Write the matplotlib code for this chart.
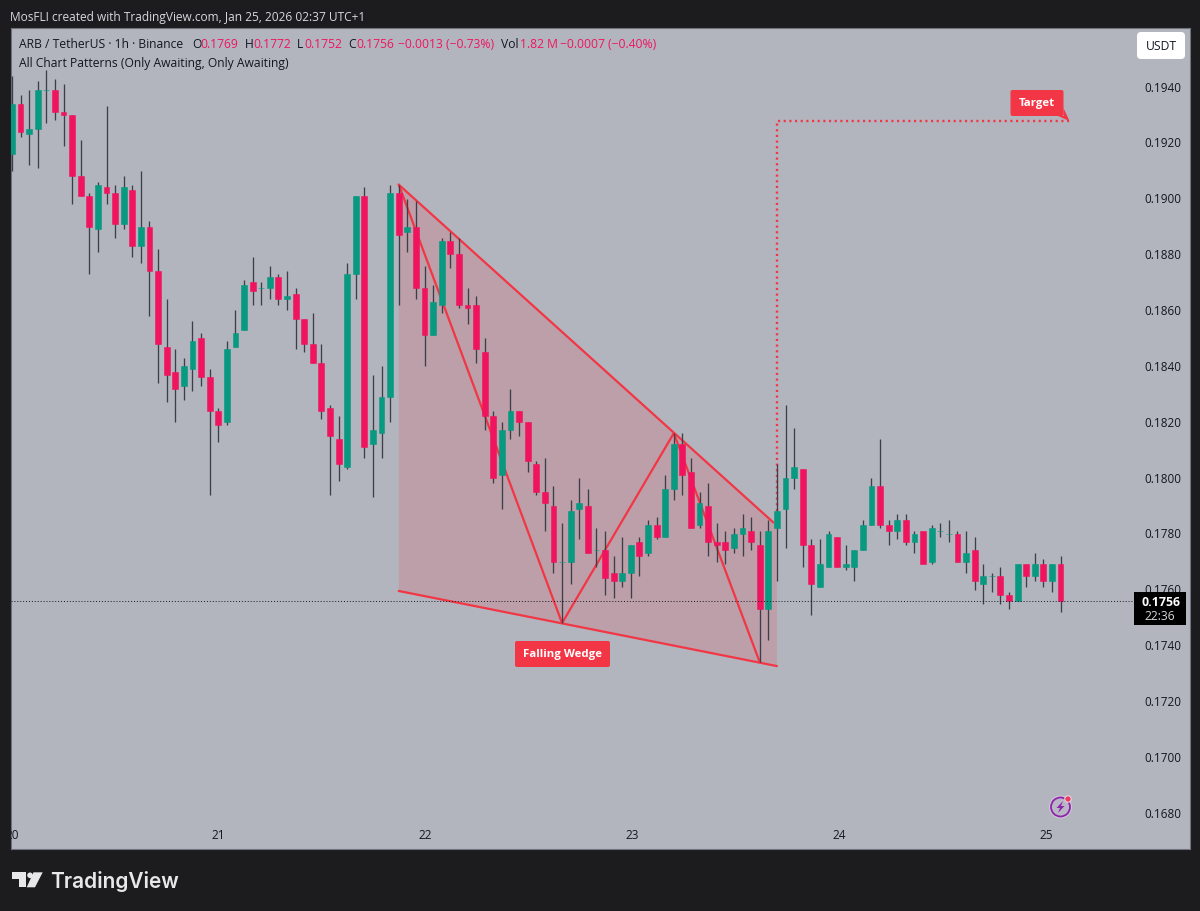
import matplotlib
matplotlib.use("agg")
import matplotlib.pyplot as plt
from matplotlib.patches import FancyBboxPatch, Polygon, Circle

# candles, one per hour
opens = [0.1916,0.1934,0.1923,0.1925,0.1939,0.1939,0.1931,0.1930,0.1908,0.1901,
	0.1889,0.1904,0.1902,0.1891,0.1903,0.1883,0.1890,0.1874,0.1847,0.1838,
	0.1833,0.1839,0.1850,0.1836,0.1824,0.1820,0.1847,0.1853,0.1870,0.1868,
	0.1868,0.1872,0.1864,0.1866,0.1857,0.1848,0.1841,0.1825,0.1814,0.1804,
	0.1873,0.1901,0.1812,0.1816,0.1829,0.1902,0.1888,0.1890,0.1868,0.1851,
	0.1862,0.1885,0.1880,0.1862,0.1862,0.1845,0.1822,0.1801,0.1817,0.1824,
	0.1820,0.1805,0.1795,0.1790,0.1770,0.1770,0.1789,0.1790,0.1774,0.1774,
	0.1766,0.1763,0.1766,0.1777,0.1773,0.1783,0.1779,0.1796,0.1812,0.1802,
	0.1783,0.1790,0.1777,0.1777,0.1775,0.1780,0.1781,0.1776,0.1753,0.1782,
	0.1789,0.1800,0.1803,0.1776,0.1761,0.1768,0.1779,0.1768,0.1768,0.1774,
	0.1783,0.1797,0.1783,0.1781,0.1785,0.1777,0.1781,0.1770,0.1781,0.1780,
	0.1780,0.1770,0.1774,0.1762,0.1765,0.1765,0.1758,0.1756,0.1769,0.1765,
	0.1769,0.1763,0.1769]
highs = [0.1944,0.1937,0.1939,0.1942,0.1946,0.1943,0.1941,0.1930,0.1921,0.1902,
	0.1906,0.1933,0.1905,0.1908,0.1905,0.1910,0.1892,0.1882,0.1864,0.1846,
	0.1843,0.1856,0.1852,0.1839,0.1825,0.1849,0.1860,0.1871,0.1879,0.1870,
	0.1876,0.1873,0.1874,0.1868,0.1857,0.1859,0.1848,0.1826,0.1822,0.1877,
	0.1901,0.1904,0.1837,0.1840,0.1905,0.1905,0.1900,0.1899,0.1876,0.1869,
	0.1886,0.1888,0.1886,0.1868,0.1865,0.1850,0.1824,0.1820,0.1832,0.1824,
	0.1820,0.1806,0.1807,0.1797,0.1784,0.1792,0.1800,0.1796,0.1782,0.1781,
	0.1772,0.1779,0.1776,0.1779,0.1785,0.1786,0.1801,0.1816,0.1816,0.1807,
	0.1795,0.1798,0.1784,0.1781,0.1782,0.1787,0.1786,0.1781,0.1785,0.1805,
	0.1826,0.1818,0.1803,0.1778,0.1778,0.1781,0.1779,0.1776,0.1774,0.1785,
	0.1800,0.1814,0.1785,0.1787,0.1787,0.1781,0.1781,0.1783,0.1784,0.1785,
	0.1781,0.1781,0.1779,0.1769,0.1766,0.1768,0.1759,0.1769,0.1769,0.1773,
	0.1771,0.1769,0.1772]
lows = [0.1910,0.1922,0.1912,0.1911,0.1927,0.1928,0.1919,0.1898,0.1901,0.1873,
	0.1881,0.1898,0.1886,0.1889,0.1879,0.1877,0.1858,0.1834,0.1827,0.1820,
	0.1828,0.1831,0.1833,0.1794,0.1813,0.1819,0.1847,0.1853,0.1862,0.1862,
	0.1864,0.1862,0.1860,0.1846,0.1845,0.1841,0.1821,0.1794,0.1799,0.1803,
	0.1864,0.1807,0.1793,0.1807,0.1820,0.1862,0.1881,0.1864,0.1840,0.1851,
	0.1859,0.1875,0.1861,0.1855,0.1841,0.1817,0.1798,0.1789,0.1814,0.1815,
	0.1802,0.1794,0.1781,0.1766,0.1748,0.1762,0.1778,0.1773,0.1768,0.1758,
	0.1757,0.1761,0.1757,0.1765,0.1772,0.1778,0.1779,0.1792,0.1794,0.1782,
	0.1782,0.1772,0.1770,0.1769,0.1773,0.1772,0.1774,0.1734,0.1742,0.1763,
	0.1775,0.1796,0.1768,0.1751,0.1761,0.1768,0.1768,0.1767,0.1763,0.1774,
	0.1783,0.1782,0.1776,0.1778,0.1776,0.1773,0.1769,0.1769,0.1779,0.1777,
	0.1770,0.1766,0.1760,0.1755,0.1759,0.1755,0.1753,0.1756,0.1761,0.1763,
	0.1761,0.1759,0.1752]
closes = [0.1934,0.1924,0.1925,0.1939,0.1939,0.1931,0.1930,0.1908,0.1901,0.1890,
	0.1905,0.1902,0.1891,0.1904,0.1883,0.1890,0.1874,0.1848,0.1837,0.1832,
	0.1840,0.1849,0.1836,0.1824,0.1819,0.1846,0.1852,0.1869,0.1867,0.1868,
	0.1872,0.1864,0.1865,0.1857,0.1848,0.1841,0.1824,0.1815,0.1805,0.1873,
	0.1901,0.1811,0.1817,0.1829,0.1902,0.1887,0.1890,0.1868,0.1851,0.1863,
	0.1885,0.1880,0.1862,0.1861,0.1846,0.1822,0.1800,0.1817,0.1824,0.1820,
	0.1806,0.1795,0.1791,0.1770,0.1770,0.1788,0.1791,0.1773,0.1774,0.1764,
	0.1763,0.1766,0.1776,0.1772,0.1783,0.1779,0.1796,0.1812,0.1801,0.1782,
	0.1791,0.1777,0.1776,0.1774,0.1780,0.1782,0.1777,0.1753,0.1781,0.1788,
	0.1800,0.1804,0.1776,0.1762,0.1769,0.1780,0.1768,0.1769,0.1774,0.1783,
	0.1797,0.1783,0.1781,0.1785,0.1777,0.1780,0.1769,0.1782,0.1781,0.1780,
	0.1770,0.1773,0.1763,0.1765,0.1765,0.1758,0.1756,0.1769,0.1765,0.1769,
	0.1763,0.1769,0.1756]

price_ticks = [0.1940,0.1920,0.1900,0.1880,0.1860,0.1840,0.1820,0.1800,0.1780,0.1760,0.1740,0.1720,0.1700,0.1680]
day_labels = ["20","21","22","23","24","25"]
day_pos = [0.05,23.95,48.05,72.1,96.2,120.3]
last_price = 0.1756

# falling wedge drawing, hour index and price
zigzag_x = [45,64,77,87]
zigzag_y = [0.1905,0.1748,0.1816,0.1734]
upper_x = [45,88.6]
upper_y = [0.1905,0.1784]
lower_x = [45,89]
lower_y = [0.17595,0.17326]
area_x = [45,89,89,45]
area_y = [0.1905,0.1783,0.17326,0.17595]
target_x = [89,89,123]
target_y = [0.1788,0.19278,0.19278]

BG = "#1c1c1e"
PANEL = "#b2b5be"
GREEN = "#089981"
RED = "#f0145f"
PATTERN = "#f23645"
WICK = "#3c3f48"
DARK = "#131722"
FONT = "Open Sans"


def draw_candles(ax):
	xs = list(range(len(opens)))
	ax.vlines(xs, lows, highs, color=WICK, lw=0.95, zorder=4)
	bottoms = [min(o, c) for o, c in zip(opens, closes)]
	heights = [abs(o - c) for o, c in zip(opens, closes)]
	colors = [GREEN if c >= o else RED for o, c in zip(opens, closes)]
	ax.bar(xs, heights, 0.68, bottom=bottoms, color=colors, edgecolor=colors, lw=0.4, zorder=5)


def draw_pattern(ax):
	ax.fill(area_x, area_y, color=PATTERN, alpha=0.17, lw=0, zorder=2)
	for xx, yy in [(zigzag_x, zigzag_y), (upper_x, upper_y), (lower_x, lower_y)]:
		ax.plot(xx, yy, color=PATTERN, lw=1.6, zorder=3, solid_capstyle="round")
	ax.plot(target_x, target_y, color=PATTERN, lw=1.7, ls=(0, (0.9, 1.5)), zorder=3)


def label_box(ui, x0, y0, x1, y1, color, radius=2):
	box = FancyBboxPatch((x0 + radius, y0 + radius), x1 - x0 - 2*radius, y1 - y0 - 2*radius,
		boxstyle="round,pad=%d,rounding_size=%d" % (radius, radius), fc=color, ec="none", zorder=10)
	ui.add_patch(box)


def draw_chrome(ui):
	txt = dict(family=FONT, va="center", zorder=12)
	ui.text(10, 17, "MosFLI created with TradingView.com, Jan 25, 2026 02:37 UTC+1", color="#d6d8de", fontsize=8.6, **txt)

	# legend lines
	ui.text(19, 45, "ARB / TetherUS · 1h · Binance", color=DARK, fontsize=8.7, **txt)
	for x, s, col in [(192, "O", DARK), (200, "0.1769", RED), (245, "H", DARK), (253, "0.1772", RED),
			(297, "L", DARK), (304, "0.1752", RED), (348, "C", DARK), (356, "0.1756", RED),
			(398, "−0.0013 (−0.73%)", RED), (501, "Vol", DARK), (520, "1.82 M", RED), (560, "−0.0007 (−0.40%)", RED)]:
		ui.text(x, 45, s, color=col, fontsize=8.7, **txt)
	ui.text(19, 63, "All Chart Patterns (Only Awaiting, Only Awaiting)", color=DARK, fontsize=8.7, **txt)

	# currency button
	label_box(ui, 1137, 32, 1185, 59, "white", radius=4)
	ui.text(1161, 46.5, "USDT", color=DARK, fontsize=8.7, ha="center", **txt)

	# last price tag
	ui.add_patch(plt.Rectangle((1134, 592), 52, 33, fc="black", ec="none", zorder=10))
	ui.text(1161, 602.5, "0.1756", color="white", fontsize=8.9, ha="center", fontweight="bold", **txt)
	ui.text(1159.5, 617, "22:36", color="#d6d8de", fontsize=8.7, ha="center", **txt)

	# pattern labels
	label_box(ui, 515, 641, 610, 667, PATTERN)
	ui.text(562.5, 655, "Falling Wedge", color="white", fontsize=8.2, ha="center", fontweight="bold", **txt)
	label_box(ui, 1010.5, 90, 1063.5, 116, PATTERN)
	ui.add_patch(Polygon([(1058, 116), (1063.5, 116), (1063.5, 108), (1069.5, 121)], fc=PATTERN, ec="none", zorder=10))
	ui.text(1037, 103.5, "Target", color="white", fontsize=8.2, ha="center", fontweight="bold", **txt)

	# bolt badge
	ui.add_patch(Circle((1060.5, 807), 11.5, fc="#cfc6d8", ec="none", zorder=9))
	ui.add_patch(Circle((1060.5, 807), 9.5, fc="#b9b7c6", ec="#8e24aa", lw=1.3, zorder=10))
	ui.add_patch(Polygon([(1063, 801), (1056.5, 808), (1060, 808), (1058, 813), (1064.5, 806), (1061, 806)],
		fc="#8e24aa", ec="none", zorder=11))
	ui.add_patch(Circle((1068, 799), 3.2, fc="#ee3b5f", ec="#e6d5df", lw=0.8, zorder=12))

	# logo
	logo = "#e8e8ea"
	ui.add_patch(Polygon([(12.3, 872.3), (26, 872.3), (26, 887.3), (19.3, 887.3), (19.3, 879), (12.3, 879)], fc=logo, ec="none"))
	ui.add_patch(Circle((30, 875.3), 2.8, fc=logo, ec="none"))
	ui.add_patch(Polygon([(33.5, 872.3), (42.7, 872.3), (35, 887.3), (26.7, 887.3)], fc=logo, ec="none"))
	ui.text(50.5, 881, "TradingView", color=logo, fontsize=15, family="Inter", fontweight="semibold", va="center")


fig = plt.figure(figsize=(12, 9.11), dpi=100, facecolor=BG)

# chart panel runs from 10.5 to 1189.5 px across, 28 to 849 px down
ax = fig.add_axes([10.5/1200, 1 - 849/911, 1179/1200, 821/911], facecolor=PANEL)
ax.set_xlim(-0.17, 137.0)
ax.set_ylim(0.16671, 0.19611)
ax.set_xticks([])
ax.set_yticks([])
for side in ax.spines.values():
	side.set_color("#6f727c")
	side.set_linewidth(0.8)

draw_pattern(ax)
draw_candles(ax)
ax.plot([-0.17, 130.5], [last_price, last_price], color=DARK, lw=0.7, ls=(0, (1, 2)), zorder=6)

# axis labels sit inside the panel
for p in price_ticks:
	ax.text(136.05, p - 1.2/27923, "%.4f" % p, family=FONT, fontsize=8.5, color=DARK, ha="right", va="center", zorder=7)
for pos, lab in zip(day_pos, day_labels):
	ax.text(pos, 0.16671 + 13/27923, lab, family=FONT, fontsize=8.5, color=DARK, ha="center", va="center", clip_on=True)

# overlay in pixel coordinates for the interface parts
ui = fig.add_axes([0, 0, 1, 1], facecolor="none")
ui.set_xlim(0, 1200)
ui.set_ylim(911, 0)
ui.axis("off")
draw_chrome(ui)

fig.savefig("out.png", dpi=100, facecolor=BG)
